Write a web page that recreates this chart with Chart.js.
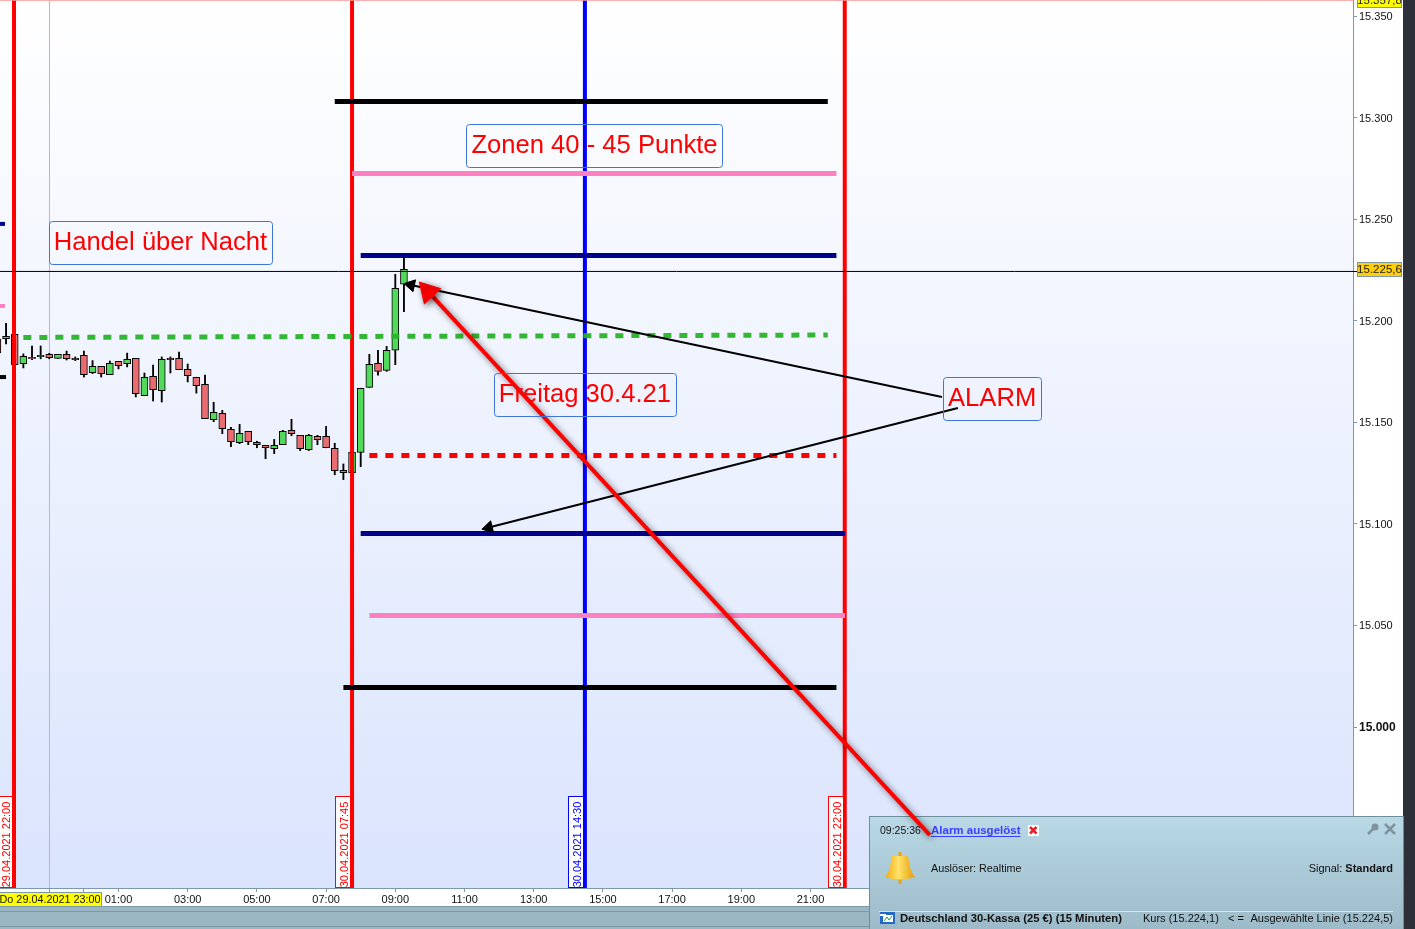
<!DOCTYPE html>
<html>
<head>
<meta charset="utf-8">
<title>Deutschland 30-Kassa</title>
<script src="https://cdn.jsdelivr.net/npm/chart.js@4"></script>
<style>
    html, body { margin: 0; padding: 0; background: #fff; overflow: hidden; }
    canvas { display: block; }
</style>
</head>
<body>
<canvas id="chart" width="1415" height="929"></canvas>
<script>
// time in hours since 29.04.2021 00:00, so 24 = 30.04. 00:00
const times = [21.5, 21.75, 22, 22.25, 22.5, 22.75, 23, 23.25, 23.5, 23.75,
    24, 24.25, 24.5, 24.75, 25, 25.25, 25.5, 25.75, 26, 26.25, 26.5, 26.75, 27, 27.25, 27.5, 27.75,
    28, 28.25, 28.5, 28.75, 29, 29.25, 29.5, 29.75, 30, 30.25, 30.5, 30.75, 31, 31.25, 31.5, 31.75,
    32, 32.25, 32.5, 32.75, 33, 33.25];
const opens = [15190.9, 15191.2, 15193.3, 15178.9, 15182.0, 15182.3, 15183.5, 15181.5, 15183.5, 15181.5,
    15183.0, 15174.5, 15177.6, 15173.5, 15180.0, 15178.9, 15181.5, 15163.1, 15172.7, 15165.6, 15181.5, 15181.5, 15176.1, 15172.2, 15168.7, 15151.3,
    15154.4, 15146.6, 15140.0, 15145.6, 15140.2, 15138.7, 15137.0, 15139.0, 15146.1, 15143.6, 15136.5, 15143.1, 15143.1, 15137.2, 15126.4, 15125.2,
    15135.2, 15167.2, 15179.1, 15175.6, 15185.5, 15218.0];
const highs = [15190.9, 15198.8, 15193.3, 15183.7, 15187.6, 15187.6, 15184.0, 15183.5, 15185.1, 15182.2,
    15185.1, 15180.4, 15177.6, 15180.2, 15180.0, 15184.1, 15181.5, 15174.3, 15178.2, 15182.2, 15182.2, 15184.6, 15178.7, 15172.2, 15173.3, 15159.9,
    15155.9, 15147.5, 15149.0, 15145.6, 15140.7, 15138.7, 15141.6, 15146.1, 15151.5, 15143.6, 15144.1, 15143.6, 15148.0, 15139.7, 15129.5, 15135.2,
    15166.8, 15183.5, 15185.5, 15187.4, 15222.9, 15230.8];
const lows = [15184.3, 15188.6, 15178.4, 15176.8, 15180.9, 15181.3, 15181.3, 15181.5, 15180.7, 15180.4,
    15172.3, 15174.0, 15172.3, 15173.5, 15176.3, 15177.3, 15162.5, 15163.1, 15160.5, 15160.0, 15174.3, 15175.9, 15169.9, 15164.4, 15151.8, 15150.3,
    15144.4, 15138.0, 15139.5, 15139.0, 15137.5, 15132.1, 15134.6, 15139.0, 15143.4, 15136.1, 15136.1, 15139.0, 15137.5, 15124.2, 15121.8, 15125.2,
    15128.2, 15167.2, 15173.2, 15175.1, 15178.4, 15204.5];
const closes = [15184.3, 15192.4, 15178.4, 15182.5, 15181.3, 15183.0, 15181.9, 15183.5, 15181.3, 15180.9,
    15173.5, 15177.6, 15174.0, 15179.1, 15177.9, 15181.0, 15164.1, 15172.2, 15166.1, 15181.0, 15180.9, 15175.9, 15173.0, 15168.0, 15151.8, 15154.9,
    15146.9, 15140.5, 15144.6, 15140.5, 15139.0, 15137.5, 15138.7, 15145.6, 15144.4, 15137.0, 15143.6, 15141.5, 15137.5, 15126.2, 15125.2, 15135.2,
    15166.8, 15178.6, 15175.1, 15185.5, 15216.0, 15225.3];

// horizontal levels drawn on the chart
const levelPrices = [15357.8, 15307.97, 15272.52, 15232.15, 15133.68, 15095.27, 15054.9, 15019.45, 15247.7, 15207.3, 15172.3];
const levelStarts = [21, 31.25, 31.75, 32, 32.25, 32, 32.25, 31.5, 21, 21, 21];
const levelEnds = [61, 45.5, 45.75, 45.75, 45.75, 46, 46, 45.75, 21.72, 21.72, 21.75];
const greenLineHours = [22.25, 45.5];
const greenLinePrices = [15191.8, 15193.0];
const crossPrice = 15224.3;
const lastPrice = 15225.6;

// vertical session lines
const sessionHours = [21.98, 31.75, 38.48, 45.99];
const sessionLabels = ['29.04.2021 22:00', '30.04.2021 07:45', '30.04.2021 14:30', '30.04.2021 22:00'];
const cursorHour = 23.005;

// arrows [from, to]
const alarmArrowAHours = [48.8, 33.45];
const alarmArrowAPrices = [15162.5, 15217.6];
const alarmArrowBHours = [49.26, 35.7];
const alarmArrowBPrices = [15157.1, 15098.2];
const redArrowHours = [48.45, 33.95];
const redArrowPrices = [14946.8, 15214.4];

// text notes
const noteTexts = ['Zonen 40 - 45 Punkte', 'Handel über Nacht', 'Freitag 30.4.21', 'ALARM'];
const noteHours = [38.757, 26.21, 38.48, 50.25];
const notePrices = [15286.1, 15238.1, 15163.6, 15161.3];

// axes
const priceTicks = [15000, 15050, 15100, 15150, 15200, 15250, 15300, 15350];
const hourTicks = [23, 24, 25, 27, 29, 31, 33, 35, 37, 39, 41, 43, 45];
const hourLabels = ['', '', '01:00', '03:00', '05:00', '07:00', '09:00', '11:00', '13:00', '15:00', '17:00', '19:00', '21:00'];

const FONT = '"Liberation Sans", Arial, sans-serif';
const AXIS_COLOR = '#7d98a6';
const yMin = 14920.73, yMax = 15357.95;
const xMin = 21.575, xMax = 60.68;

const levelStyles = [
    { color: '#ff9a9a', width: 1 },
    { color: '#000000', width: 5 },
    { color: '#ff80c0', width: 5 },
    { color: '#00008b', width: 5 },
    { color: '#ff0000', width: 5, dash: [8, 8] },
    { color: '#00008b', width: 5 },
    { color: '#ff80c0', width: 5 },
    { color: '#000000', width: 5 },
    { color: '#00008b', width: 4 },
    { color: '#ff80c0', width: 4 },
    { color: '#000000', width: 4 }
];
const sessionColors = ['#ff0000', '#ff0000', '#0000ff', '#ff0000'];

function formatPrice(v, decimals) {
    const s = v.toFixed(decimals).replace('.', ',');
    return s.slice(0, 2) + '.' + s.slice(2);
}

function twoPoints(xs, ys) {
    return xs.map((x, i) => ({ x: x, y: ys[i] }));
}

const datasets = [];

// red arrow comes first because it has to end up on top of the alarm box
datasets.push({
    type: 'line', data: twoPoints(redArrowHours, redArrowPrices), order: 0,
    borderColor: '#ff0000', borderWidth: 4, clip: false,
    pointRadius: [0, 13], pointStyle: 'triangle', pointRotation: [0, -43],
    pointBackgroundColor: '#ff0000', pointBorderColor: '#ff0000', pointBorderWidth: 1
});
datasets.push({
    type: 'line', data: twoPoints(alarmArrowAHours, alarmArrowAPrices), order: 1,
    borderColor: '#000000', borderWidth: 2,
    pointRadius: [0, 7], pointStyle: 'triangle', pointRotation: [0, -78],
    pointBackgroundColor: '#000000', pointBorderColor: '#000000', pointBorderWidth: 1
});
datasets.push({
    type: 'line', data: twoPoints(alarmArrowBHours, alarmArrowBPrices), order: 1,
    borderColor: '#000000', borderWidth: 2,
    pointRadius: [0, 7], pointStyle: 'triangle', pointRotation: [0, -104],
    pointBackgroundColor: '#000000', pointBorderColor: '#000000', pointBorderWidth: 1
});

// levels
levelPrices.forEach((price, i) => {
    datasets.push({
        type: 'line', order: 2,
        data: [{ x: levelStarts[i], y: price }, { x: levelEnds[i], y: price }],
        borderColor: levelStyles[i].color, borderWidth: levelStyles[i].width,
        borderDash: levelStyles[i].dash || [], pointRadius: 0
    });
});
datasets.push({
    type: 'line', order: 2, data: twoPoints(greenLineHours, greenLinePrices),
    borderColor: 'rgba(40,178,40,0.95)', borderWidth: 5, borderDash: [8, 8], pointRadius: 0
});
datasets.push({
    type: 'line', order: 2,
    data: [{ x: xMin, y: crossPrice }, { x: xMax, y: crossPrice }],
    borderColor: '#000000', borderWidth: 1, pointRadius: 0
});

// session lines
sessionHours.forEach((h, i) => {
    datasets.push({
        type: 'line', order: 3,
        data: [{ x: h, y: yMin }, { x: h, y: yMax }],
        borderColor: sessionColors[i], borderWidth: 4, pointRadius: 0
    });
});

// candles
datasets.push({
    type: 'bar', order: 4, grouped: false, barThickness: 7, borderWidth: 1, borderColor: '#000000',
    borderSkipped: false,
    data: times.map((t, i) => ({ x: t, y: [opens[i], closes[i]] })),
    backgroundColor: times.map((t, i) => closes[i] >= opens[i] ? '#52d95c' : '#e86c70')
});
datasets.push({
    type: 'bar', order: 5, grouped: false, barThickness: 1.2, backgroundColor: '#000000',
    data: times.map((t, i) => ({ x: t, y: [lows[i], highs[i]] }))
});

// 23:00 cursor
datasets.push({
    type: 'line', order: 6,
    data: [{ x: cursorHour, y: yMin }, { x: cursorHour, y: yMax }],
    borderColor: '#e8a4aa', borderWidth: 1, pointRadius: 0
});

function drawBell(ctx, cx, top) {
    const g = ctx.createLinearGradient(cx - 14, 0, cx + 14, 0);
    g.addColorStop(0, '#f5b010');
    g.addColorStop(0.45, '#ffe26a');
    g.addColorStop(1, '#e8a00c');
    ctx.fillStyle = '#e8a414';
    ctx.fillRect(cx - 1.5, top, 3, 5);
    ctx.fillRect(cx - 1.5, top + 26, 3, 6);
    ctx.fillStyle = g;
    ctx.beginPath();
    ctx.moveTo(cx - 8, top + 4);
    ctx.lineTo(cx + 8, top + 4);
    ctx.bezierCurveTo(cx + 10, top + 17, cx + 11, top + 20, cx + 15, top + 25);
    ctx.quadraticCurveTo(cx, top + 30, cx - 15, top + 25);
    ctx.bezierCurveTo(cx - 11, top + 20, cx - 10, top + 17, cx - 8, top + 4);
    ctx.closePath();
    ctx.fill();
}

function drawAlarmBox(ctx) {
    const left = 869, top = 816, right = 1403, bottom = 929;
    const g = ctx.createLinearGradient(0, top, 0, bottom);
    g.addColorStop(0, '#b9d9e6');
    g.addColorStop(1, '#9dbac8');
    ctx.save();
    ctx.fillStyle = g;
    ctx.fillRect(left, top, right - left, bottom - top);
    ctx.strokeStyle = '#6f8d9b';
    ctx.lineWidth = 1;
    ctx.strokeRect(left + 0.5, top + 0.5, right - left, bottom - top);
    ctx.textBaseline = 'middle';
    ctx.textAlign = 'left';
    ctx.fillStyle = '#111';
    ctx.font = '10.5px ' + FONT;
    ctx.fillText('09:25:36', 880, 831);
    ctx.font = '10.8px ' + FONT;
    ctx.fillText('Auslöser: Realtime', 931, 869);
    ctx.fillStyle = '#3c3cff';
    ctx.font = 'bold 11.5px ' + FONT;
    ctx.fillText('Alarm ausgelöst', 931, 831);
    const linkWidth = ctx.measureText('Alarm ausgelöst').width;
    ctx.fillRect(931, 836, linkWidth, 1);
    // delete icon
    ctx.fillStyle = '#fff';
    ctx.fillRect(1028, 825, 11, 11);
    ctx.strokeStyle = '#e8202a';
    ctx.lineWidth = 2.5;
    ctx.beginPath();
    ctx.moveTo(1030, 827); ctx.lineTo(1036.5, 833.5);
    ctx.moveTo(1036.5, 827); ctx.lineTo(1030, 833.5);
    ctx.stroke();
    // wrench and close
    ctx.strokeStyle = '#80929c';
    ctx.lineWidth = 2.5;
    ctx.beginPath();
    ctx.moveTo(1368, 834); ctx.lineTo(1375, 827);
    ctx.moveTo(1385, 824); ctx.lineTo(1395, 834);
    ctx.moveTo(1395, 824); ctx.lineTo(1385, 834);
    ctx.stroke();
    ctx.fillStyle = '#80929c';
    ctx.beginPath();
    ctx.arc(1375, 827, 3.5, 0, Math.PI * 2);
    ctx.fill();
    drawBell(ctx, 900, 852);
    // signal, right aligned
    ctx.fillStyle = '#111';
    ctx.textAlign = 'right';
    ctx.font = 'bold 11px ' + FONT;
    ctx.fillText('Standard', 1393, 869);
    const standardWidth = ctx.measureText('Standard ').width;
    ctx.font = '11px ' + FONT;
    ctx.fillText('Signal:', 1393 - standardWidth, 869);
    ctx.fillStyle = '#d5e5ec';
    ctx.fillRect(879, 911, 514, 1);
    // instrument icon
    ctx.fillStyle = '#2468c8';
    ctx.fillRect(880, 912, 15, 12);
    ctx.fillStyle = '#fff';
    ctx.fillRect(883, 915, 10, 7);
    ctx.fillRect(880, 914, 6, 2);
    ctx.strokeStyle = '#19a83a';
    ctx.lineWidth = 1;
    ctx.beginPath();
    ctx.moveTo(884, 921); ctx.lineTo(887, 917); ctx.lineTo(889, 920); ctx.lineTo(892, 916);
    ctx.stroke();
    ctx.fillStyle = '#111';
    ctx.textAlign = 'left';
    ctx.font = 'bold 11.25px ' + FONT;
    ctx.fillText('Deutschland 30-Kassa (25 €) (15 Minuten)', 900, 919);
    ctx.font = '11px ' + FONT;
    ctx.fillText('Kurs (15.224,1)', 1143, 919);
    ctx.fillText('< =', 1228, 919);
    ctx.textAlign = 'right';
    ctx.fillText('Ausgewählte Linie (15.224,5)', 1393, 919);
    ctx.restore();
}

const terminalPlugin = {
    id: 'terminal',
    beforeDraw(chart) {
        const ctx = chart.ctx, a = chart.chartArea;
        const g = ctx.createLinearGradient(0, a.top, 0, a.bottom);
        g.addColorStop(0, '#ffffff');
        g.addColorStop(1, '#dae4fd');
        ctx.save();
        ctx.fillStyle = '#ffffff';
        ctx.fillRect(0, 0, 1415, 929);
        ctx.fillStyle = g;
        ctx.fillRect(a.left, a.top, a.right - a.left, a.bottom - a.top);
        // window chrome round the chart
        ctx.fillStyle = '#9ab6c3';
        ctx.fillRect(0, 906, 1403, 23);
        ctx.fillStyle = AXIS_COLOR;
        ctx.fillRect(0, 906, 1403, 1);
        ctx.fillRect(0, 911, 1403, 1);
        ctx.fillRect(0, 926, 1403, 1);
        ctx.fillStyle = '#2d3039';
        ctx.fillRect(1403, 0, 12, 929);
        ctx.restore();
        // price labels sit a pixel lower in the original
        chart.scales.y.getLabelItems().forEach(item => { item.textOffset = 1; });
    },
    beforeDatasetDraw(chart, args) {
        if (args.index !== 0) return;
        const ctx = chart.ctx;
        drawAlarmBox(ctx);
        ctx.save();
        ctx.shadowColor = 'rgba(0,0,0,0.55)';
        ctx.shadowBlur = 6;
        ctx.shadowOffsetX = 2;
        ctx.shadowOffsetY = 2;
    },
    afterDatasetDraw(chart, args) {
        if (args.index === 0) chart.ctx.restore();
    },
    afterDatasetsDraw(chart) {
        const ctx = chart.ctx, xs = chart.scales.x, ys = chart.scales.y;
        ctx.save();
        // date flags on the session lines
        sessionHours.forEach((h, i) => {
            const x = xs.getPixelForValue(h);
            const boxRight = Math.round(x) - 2;
            ctx.fillStyle = '#ffffff';
            ctx.strokeStyle = sessionColors[i];
            ctx.lineWidth = 1;
            ctx.fillRect(boxRight - 15, 797, 15, 91);
            ctx.strokeRect(boxRight - 14.5, 796.5, 15, 91);
            ctx.save();
            ctx.translate(boxRight - 5.5, 844.5);
            ctx.rotate(-Math.PI / 2);
            ctx.fillStyle = sessionColors[i];
            ctx.font = '11px ' + FONT;
            ctx.textAlign = 'center';
            ctx.textBaseline = 'middle';
            ctx.fillText(sessionLabels[i], 0, 0);
            ctx.restore();
        });
        // notes
        ctx.font = '25.6px ' + FONT;
        ctx.textBaseline = 'middle';
        ctx.textAlign = 'center';
        noteTexts.forEach((text, i) => {
            const cx = xs.getPixelForValue(noteHours[i]);
            const cy = ys.getPixelForValue(notePrices[i]);
            const w = ctx.measureText(text).width + 10;
            ctx.strokeStyle = '#3f74d8';
            ctx.lineWidth = 1;
            ctx.beginPath();
            ctx.roundRect(Math.round(cx - w / 2) + 0.5, Math.round(cy - 22) + 0.5, Math.round(w), 43, 3);
            ctx.stroke();
            ctx.fillStyle = '#ff0000';
            ctx.fillText(text, cx, cy);
        });
        // price flags on the axis
        ctx.font = '11.5px ' + FONT;
        ctx.textAlign = 'center';
        ctx.textBaseline = 'middle';
        ctx.strokeStyle = AXIS_COLOR;
        ctx.lineWidth = 1;
        ctx.fillStyle = '#ffff00';
        ctx.fillRect(1357, -7, 45, 14);
        ctx.strokeRect(1357.5, -6.5, 44, 14);
        ctx.fillStyle = '#222';
        ctx.fillText(formatPrice(yMax - 0.15, 1), 1379.5, 0.5);
        ctx.fillStyle = '#ffcf0a';
        ctx.fillRect(1357, 262, 45, 14);
        ctx.strokeRect(1357.5, 262.5, 44, 14);
        ctx.fillStyle = '#222';
        ctx.fillText(formatPrice(lastPrice, 1), 1379.5, 269.5);
        ctx.fillStyle = '#000';
        ctx.fillRect(1353, Math.floor(ys.getPixelForValue(crossPrice)), 4, 1);
        // selected date on the time axis
        ctx.fillStyle = '#ffff00';
        ctx.fillRect(0, 893, 101, 13);
        ctx.strokeRect(-0.5, 892.5, 102, 14);
        ctx.fillStyle = '#111';
        ctx.font = '10.8px ' + FONT;
        ctx.fillText('Do 29.04.2021 23:00', 50, 900);
        ctx.restore();
    }
};

new Chart(document.getElementById('chart').getContext('2d'), {
    type: 'bar',
    data: { datasets: datasets },
    plugins: [terminalPlugin],
    options: {
        responsive: false,
        animation: false,
        devicePixelRatio: 1,
        layout: { autoPadding: false, padding: { left: 0, top: 0, right: 12, bottom: 23 } },
        plugins: { legend: { display: false }, tooltip: { enabled: false } },
        scales: {
            x: {
                type: 'linear',
                offset: false,
                min: xMin,
                max: xMax,
                grid: { offset: false, drawOnChartArea: false, tickLength: 4, tickColor: AXIS_COLOR },
                border: { color: AXIS_COLOR },
                afterBuildTicks: axis => { axis.ticks = hourTicks.map(v => ({ value: v })); },
                afterFit: axis => { axis.height = 18; axis.paddingLeft = 0; axis.paddingRight = 0; },
                ticks: {
                    autoSkip: false,
                    maxRotation: 0,
                    padding: 1,
                    color: '#111',
                    font: { family: FONT, size: 11 },
                    callback: (value) => hourLabels[hourTicks.indexOf(value)]
                }
            },
            y: {
                type: 'linear',
                position: 'right',
                min: yMin,
                max: yMax,
                grid: { drawOnChartArea: false, tickLength: 4, tickColor: AXIS_COLOR },
                border: { color: AXIS_COLOR },
                afterBuildTicks: axis => { axis.ticks = priceTicks.map(v => ({ value: v })); },
                afterFit: axis => { axis.width = 50; axis.paddingTop = 0; axis.paddingBottom = 0; },
                ticks: {
                    padding: 2,
                    color: '#111',
                    font: ctx => ctx.tick && ctx.tick.value === 15000
                        ? { family: FONT, size: 12, weight: 'bold' }
                        : { family: FONT, size: 11, weight: 'normal' },
                    callback: value => formatPrice(value, 0).replace(',', '')
                }
            }
        }
    }
});
</script>
</body>
</html>
